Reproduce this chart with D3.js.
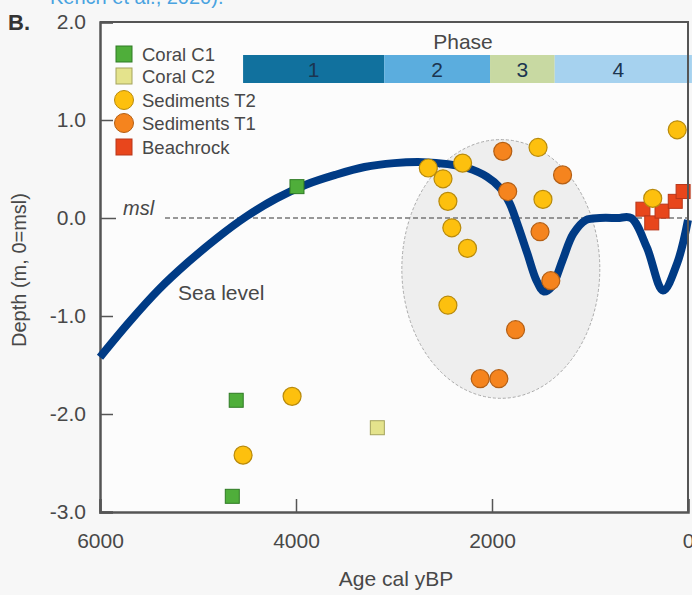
<!DOCTYPE html>
<html>
<head>
<meta charset="utf-8">
<script src="https://cdn.jsdelivr.net/npm/d3@7"></script>
<style>
  body { margin: 0; background: #f7f7f7; }
  svg { display: block; font-family: "Liberation Sans", Arial, sans-serif; }
</style>
</head>
<body>
<div id="chart"></div>
<script>
// values: [age cal yBP, depth m]
var seaLevel = [[6000, -1.42], [5700, -1.06], [5400, -0.73], [5100, -0.45], [4800, -0.2], [4500, 0.02],
    [4200, 0.2], [3900, 0.34], [3600, 0.44], [3300, 0.52], [3000, 0.56], [2700, 0.57], [2450, 0.55],
    [2250, 0.51], [2050, 0.42], [1920, 0.31], [1820, 0.15], [1745, -0.05], [1640, -0.36],
    [1545, -0.64], [1470, -0.75], [1390, -0.7], [1280, -0.43], [1170, -0.16], [1040, -0.02],
    [900, 0], [720, 0], [580, 0], [420, -0.3], [255, -0.74], [110, -0.46], [0, -0.02]];
var coralC1 = [[3990, 0.32], [4610, -1.86], [4650, -2.84]];
var coralC2 = [[3170, -2.14]];
var sedT2 = [[2650, 0.51], [2500, 0.4], [2300, 0.56], [2450, 0.17], [1530, 0.72], [1480, 0.19],
    [2410, -0.1], [2250, -0.31], [2450, -0.89], [110, 0.9], [360, 0.2], [4040, -1.82], [4540, -2.42]];
var sedT1 = [[1890, 0.68], [1280, 0.44], [1840, 0.27], [1510, -0.14], [1400, -0.64],
    [1760, -1.14], [2120, -1.64], [1930, -1.64]];
var beachrock = [[460, 0.09], [370, -0.05], [265, 0.07], [130, 0.17], [50, 0.27]];
var phases = [{name: "1", start: 4540, end: 3100, color: "#11719e"},
    {name: "2", start: 3100, end: 2020, color: "#5badde"},
    {name: "3", start: 2020, end: 1360, color: "#c8d9a2"},
    {name: "4", start: 1360, end: -40, color: "#a6d2ef"}];
var xTicks = [6000, 4000, 2000, 0];
var yTicks = [2, 1, 0, -1, -2, -3];
var ellipseC = [1910, -0.52], ellipseR = [1010, 1.32];

var W = 692, H = 595;
var mLeft = 100, mRight = 688, mTop = 22, mBottom = 512;
var textCol = "#484848";

var svg = d3.select("#chart").append("svg")
    .attr("width", W).attr("height", H);

var x = d3.scaleLinear().domain([6000, 0]).range([mLeft, mRight]);
var y = d3.scaleLinear().domain([2, -3]).range([mTop, mBottom]);

// cut-off citation line at the top
svg.append("text").attr("x", 50).attr("y", 4).attr("fill", "#4aa3e0")
    .style("font-size", "20px").text("Kench et al., 2020).");

svg.append("rect").attr("x", mLeft).attr("y", mTop)
    .attr("width", mRight - mLeft).attr("height", mBottom - mTop).attr("fill", "#fcfcfc");

// grey ellipse
svg.append("ellipse")
    .attr("cx", x(ellipseC[0])).attr("cy", y(ellipseC[1]))
    .attr("rx", x(0) - x(ellipseR[0])).attr("ry", y(0) - y(ellipseR[1]))
    .attr("fill", "#ebebeb").attr("fill-opacity", 0.85)
    .attr("stroke", "#aaa").attr("stroke-dasharray", "3,2").attr("stroke-width", 1);

// msl dashed line
svg.append("line").attr("x1", 165).attr("x2", mRight)
    .attr("y1", y(0)).attr("y2", y(0))
    .attr("stroke", "#777").attr("stroke-width", 1.5).attr("stroke-dasharray", "5,3");
svg.append("text").attr("x", 123).attr("y", y(0) - 3).attr("fill", textCol)
    .style("font-size", "20px").style("font-style", "italic").text("msl");

// axes (ticks pointing inwards)
var gx = svg.append("g").attr("transform", "translate(0," + mBottom + ")")
    .call(d3.axisBottom(x).tickValues(xTicks).tickSize(-13).tickPadding(21)
        .tickFormat(function (d) { return String(d); }));
var gy = svg.append("g").attr("transform", "translate(" + mLeft + ",0)")
    .call(d3.axisLeft(y).tickValues(yTicks).tickSize(-13).tickPadding(14)
        .tickFormat(function (d) { return d.toFixed(1); }));
[gx, gy].forEach(function (g) {
    g.select(".domain").attr("stroke", "#555").attr("stroke-width", 2.5);
    g.selectAll(".tick line").attr("stroke", "#555").attr("stroke-width", 1.5);
    g.selectAll(".tick text").attr("fill", textCol).style("font-size", "21px")
        .style("font-family", "Liberation Sans, Arial, sans-serif");
});
gy.selectAll(".tick").filter(function (d) { return d === 0; }).select("line").attr("x2", 16);
// frame top and right
svg.append("path").attr("d", "M" + mLeft + "," + mTop + "H" + mRight + "V" + mBottom)
    .attr("fill", "none").attr("stroke", "#555").attr("stroke-width", 2);

// sea level curve
var line = d3.line().x(function (d) { return x(d[0]); }).y(function (d) { return y(d[1]); })
    .curve(d3.curveCatmullRom.alpha(0.5));
svg.append("path").datum(seaLevel).attr("d", line)
    .attr("fill", "none").attr("stroke", "#003b85").attr("stroke-width", 8)
    .attr("stroke-linecap", "butt");
svg.append("text").attr("x", 178).attr("y", 300).attr("fill", textCol)
    .style("font-size", "21px").text("Sea level");

// points
function squares(data, fill, stroke) {
    svg.append("g").selectAll("rect").data(data).join("rect")
        .attr("x", function (d) { return x(d[0]) - 7; })
        .attr("y", function (d) { return y(d[1]) - 7; })
        .attr("width", 14).attr("height", 14)
        .attr("fill", fill).attr("stroke", stroke).attr("stroke-width", 1);
}
function circles(data, fill, stroke) {
    svg.append("g").selectAll("circle").data(data).join("circle")
        .attr("cx", function (d) { return x(d[0]); })
        .attr("cy", function (d) { return y(d[1]); })
        .attr("r", 9)
        .attr("fill", fill).attr("stroke", stroke).attr("stroke-width", 1.2);
}
squares(beachrock, "#e8461c", "#b8361a");
circles(sedT1, "#f5841e", "#b45f14");
circles(sedT2, "#fdc00e", "#b88a0c");
squares(coralC1, "#4fae3a", "#2f7a24");
squares(coralC2, "#e4e38c", "#a4a35c");

// legend
var legend = [
    {label: "Coral C1", shape: "sq", fill: "#4fae3a", stroke: "#2f7a24"},
    {label: "Coral C2", shape: "sq", fill: "#e4e38c", stroke: "#a4a35c"},
    {label: "Sediments T2", shape: "c", fill: "#fdc00e", stroke: "#b88a0c"},
    {label: "Sediments T1", shape: "c", fill: "#f5841e", stroke: "#b45f14"},
    {label: "Beachrock", shape: "sq", fill: "#e8461c", stroke: "#b8361a"}];
var legY = [54, 76, 100, 123, 147];
var lg = svg.append("g").selectAll("g").data(legend).join("g")
    .attr("transform", function (d, i) { return "translate(124," + legY[i] + ")"; });
lg.each(function (d) {
    var g = d3.select(this);
    if (d.shape === "sq") {
        g.append("rect").attr("x", -8).attr("y", -8).attr("width", 16).attr("height", 16)
            .attr("fill", d.fill).attr("stroke", d.stroke);
    } else {
        g.append("circle").attr("r", 9.5).attr("fill", d.fill).attr("stroke", d.stroke);
    }
});
lg.append("text").attr("x", 18).attr("y", 7).attr("fill", textCol)
    .style("font-size", "18.5px").text(function (d) { return d.label; });

// phase bar
var phaseY0 = 55, phaseY1 = 83;
svg.append("g").selectAll("rect").data(phases).join("rect")
    .attr("x", function (d) { return x(d.start); })
    .attr("width", function (d) { return x(d.end) - x(d.start); })
    .attr("y", phaseY0).attr("height", phaseY1 - phaseY0)
    .attr("fill", function (d) { return d.color; });
svg.append("g").selectAll("text").data(phases).join("text")
    .attr("x", function (d) { return x((d.start + Math.max(d.end, 0)) / 2) + (d.name === "4" ? -3 : 0); })
    .attr("y", phaseY1 - 6).attr("text-anchor", "middle")
    .attr("fill", "#1b3550").style("font-size", "21px").text(function (d) { return d.name; });
svg.append("text").attr("x", 463).attr("y", 49).attr("text-anchor", "middle")
    .attr("fill", textCol).style("font-size", "21px").text("Phase");
// redraw right frame over the bar
svg.append("line").attr("x1", mRight).attr("x2", mRight).attr("y1", mTop).attr("y2", mBottom)
    .attr("stroke", "#555").attr("stroke-width", 2);

// labels
svg.append("text").attr("x", 8).attr("y", 30).attr("fill", "#333")
    .style("font-size", "22px").style("font-weight", "bold").text("B.");
svg.append("text").attr("x", 396).attr("y", 586).attr("text-anchor", "middle")
    .attr("fill", textCol).style("font-size", "21px").text("Age cal yBP");
svg.append("text").attr("transform", "translate(26,270) rotate(-90)")
    .attr("text-anchor", "middle").attr("fill", textCol)
    .style("font-size", "20px").text("Depth (m, 0=msl)");
</script>
</body>
</html>
